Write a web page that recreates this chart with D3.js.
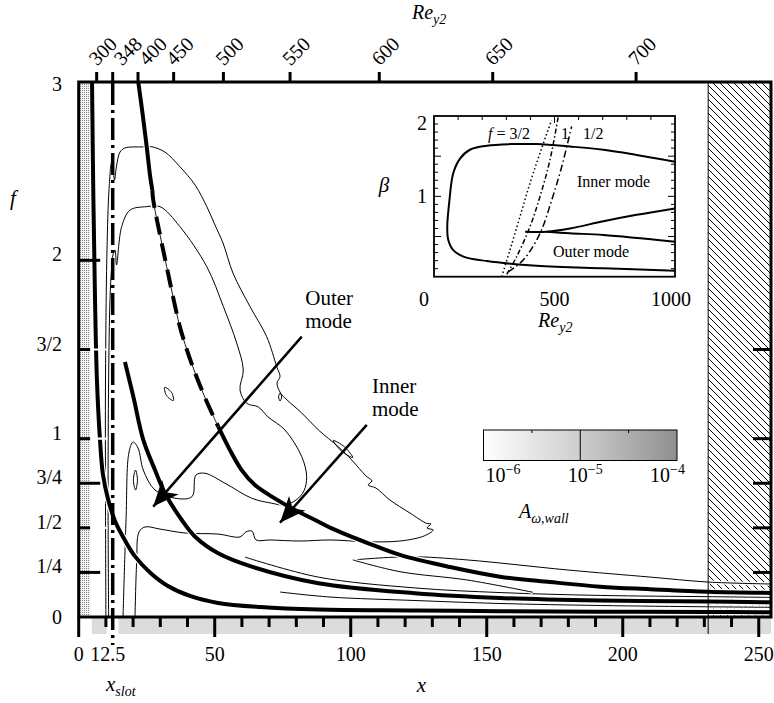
<!DOCTYPE html>
<html><head><meta charset="utf-8">
<script src="https://cdn.jsdelivr.net/npm/d3@7"></script>
<style>body{margin:0;background:#fff}svg{display:block}text{font-family:"Liberation Serif","Times New Roman","DejaVu Serif",serif;fill:#000}</style>
</head><body><svg id="c" width="774" height="703" font-family="Liberation Serif, Times New Roman, serif"></svg>
<script>
// ---------------- data ----------------
const xMajorTicks = [0, 50, 100, 150, 200, 250];
const xLabelVals = [0, 12.5, 50, 100, 150, 200, 250];
const xSlot = 12.5;
const fTicks = [0, 0.25, 0.5, 0.75, 1, 1.5, 2, 3];
const fTickLabels = ["0", "1/4", "1/2", "3/4", "1", "3/2", "2", "3"];
const fTicksWhite = [1.5, 1, 0.5];
const fTicksLong = [2, 0.75, 0.25];
const fTicksRight = [1.5, 1, 0.75, 0.5, 0.25];
const reTicks = [300, 348, 400, 450, 500, 550, 600, 650, 700];
const reTickX = [6.6, 12.5, 21.8, 34.9, 53.2, 77.7, 110.5, 152.2, 204.9];
const stippleBand = [0.4, 4.2];
const wallBands = [[4.8, 10.3], [14.6, 254.5]];
const hatchBand = [231.4, 254.5];

// thick neutral-curve branches (x, f)
const curveA = [[4.9,3.0],[5.4,2.34],[6.0,1.78],[6.7,1.33],[7.8,1.0],[8.9,0.80],[10.8,0.66],[13.3,0.54],[17.0,0.43],[20.7,0.34],[26.2,0.25],[32.8,0.174],[40.9,0.118],[51.2,0.079],[66.7,0.056],[88,0.042],[123.6,0.037],[155,0.0325],[191.7,0.030],[231.4,0.028],[254.5,0.026]];
const curveB = [[17.0,1.43],[20.1,1.235],[23.75,0.993],[28.05,0.824],[31.7,0.694],[37.9,0.544],[42.8,0.450],[51.3,0.357],[63.6,0.282],[88.1,0.189],[123.6,0.133],[154.9,0.1065],[191.7,0.0925],[231.4,0.0869],[254.5,0.0824]];
const curveCUpper = [[21.9,3.0],[23.3,2.843],[25.0,2.637],[26.2,2.479],[27.06,2.394]];
const curveCMid = [[27.06,2.394],[27.4,2.338],[29.9,2.142],[32.35,1.964],[34.7,1.794],[37.2,1.628],[39.8,1.497],[42.8,1.368],[46.8,1.217],[51.3,1.067]];
const curveCLower = [[51.3,1.067],[55.6,0.936],[59.9,0.824],[64.8,0.740],[71.0,0.675],[79.5,0.600],[86.9,0.544],[93.0,0.497],[106.5,0.413],[118.1,0.348],[136.5,0.280],[154.9,0.226],[173.3,0.196],[191.7,0.170],[210,0.156],[231.4,0.142],[254.5,0.135]];

// amplitude contours (x, f)
const contourL1 = [[10.0,0],[9.85,0.656],[9.85,1.329],[10.4,2.058],[11.14,2.394],[12.06,2.546],[12.6,2.518],[13.16,2.450],[13.9,2.529],[15.18,2.607],[17.0,2.630],[23.6,2.636],[26.8,2.637],[31.7,2.607],[37.2,2.525],[42.8,2.422],[47.1,2.301],[50.1,2.198],[53.05,2.097],[56.7,1.929],[63.0,1.740],[69.1,1.572],[72.8,1.404],[74.0,1.348],[72.9,1.312],[74.2,1.256],[76.6,1.217],[82.0,1.144],[88.1,1.049],[95.4,0.955],[100.4,0.880],[105.6,0.791],[107.8,0.763],[106.4,0.740],[109.3,0.723],[114.4,0.656],[121.8,0.583],[127.9,0.525],[129.5,0.522],[128.05,0.499],[130.3,0.488],[126.9,0.454],[118.1,0.426],[105.9,0.422],[92.4,0.432],[81.4,0.426],[70.3,0.432],[65.2,0.432],[63.7,0.482],[61.5,0.477],[59.3,0.449],[51.2,0.465],[39.1,0.471],[29.9,0.493],[24.4,0.505],[22.2,0.477],[21.3,0.303],[20.7,0]];
const contourL2 = [[11.0,0],[10.8,0.656],[11.0,1.329],[11.5,1.778],[12.13,1.964],[12.6,2.030],[13.35,2.058],[13.9,1.974],[15.8,2.189],[18.9,2.282],[25.0,2.301],[29.9,2.301],[37.2,2.189],[47.1,1.964],[53.2,1.740],[58.1,1.535],[60.5,1.385],[59.3,1.273],[61.8,1.198],[66.0,1.178],[69.6,1.122],[75.8,1.049],[82.0,0.899],[83.8,0.787],[82.8,0.707],[79.9,0.656],[75.8,0.628],[71.0,0.638],[63.6,0.666],[53.8,0.750],[46.4,0.806],[43.1,0.796],[41.65,0.675],[35.4,0.666],[28.05,0.712],[23.75,0.824],[21.8,0.948],[20.0,0.981],[18.5,0.925],[17.4,0.544],[16.3,0]];
const loopE1 = [[34.8,1.214],[32.3,1.241],[31.6,1.288],[34.1,1.260]];
const loopE2 = [[20.9,0.824],[21.6,0.768],[20.9,0.712],[20.1,0.768]];
const loopE3 = [[74.0,1.256],[74.6,1.234],[74.0,1.211],[73.5,1.234]];
const loopE4 = [[100.75,0.894],[96.56,0.931],[93.58,0.990],[97.78,0.953]];
const thinTB1 = [[61.1,0.336],[88.0,0.224],[123.6,0.163],[154.9,0.137],[191.7,0.121],[231.4,0.114],[254.5,0.110]];
const thinTB2 = [[74.0,0.140],[92.4,0.112],[123.6,0.0925],[154.9,0.0757],[191.7,0.0645],[231.4,0.0572],[254.5,0.0544]];
const tongueUpper = [[100.8,0.320],[121.8,0.338],[142.8,0.320],[179.5,0.264],[210,0.224],[231.4,0.196],[254.5,0.185]];
const tongueLower = [[100.8,0.320],[118.1,0.254],[142.8,0.2075],[167.0,0.1385]];

// arrows (start, tip) and their labels
const arrowOuter = [[82.0,1.572],[27.4,0.619]];
const arrowInner = [[105.9,1.077],[74.0,0.529]];
const labelOuter = [83.3, 1.75];
const labelInner = [107.8, 1.256];

// inset (Re_y2, beta)
const insetNeutral = [[1000,1.43],[841,1.515],[703,1.58],[564,1.62],[426,1.65],[315,1.65],[219,1.63],[149,1.58],[108,1.47],[80,1.29],[64,0.95],[55,0.62],[59,0.46],[80,0.33],[122,0.25],[219,0.195],[426,0.137],[703,0.104],[1000,0.075]];
const insetSplitUpper = [[378,0.56],[468,0.56],[564,0.60],[703,0.69],[841,0.77],[1000,0.85]];
const insetSplitLower = [[468,0.56],[564,0.54],[703,0.52],[1000,0.436]];
const insetF32 = [[281,0.0],[315,0.33],[357,0.75],[398,1.16],[440,1.54],[488,1.95]];
const insetF1 = [[302,0.03],[343,0.25],[398,0.62],[440,1.0],[481,1.45],[516,2.0]];
const insetF12 = [[308,0.06],[371,0.21],[440,0.54],[488,0.95],[530,1.37],[571,1.87]];
const insetXTicks = [0, 500, 1000];
const insetYTicks = [1, 2];

// colour bar
const cbTicks = [1e-6, 1e-5, 1e-4];
const cbExp = ["\u22126", "\u22125", "\u22124"];

// ---------------- drawing ----------------
const svg = d3.select('#c');
const X = d3.scaleLinear().domain([0, 254.5]).range([78.7, 771]);
const Y = d3.scaleLinear().domain([0, 3]).range([617, 82]);
const defs = svg.append('defs');

const hatch = defs.append('pattern').attr('id','hatch').attr('patternUnits','userSpaceOnUse').attr('width',7).attr('height',7);
hatch.append('rect').attr('width',7).attr('height',7).attr('fill','#fff');
hatch.append('path').attr('d','M-1,-1 L8,8 M-1,6 L1,8 M6,-1 L8,1').attr('stroke','#000').attr('stroke-width',1);
const stip = defs.append('pattern').attr('id','stip').attr('patternUnits','userSpaceOnUse').attr('width',2).attr('height',2);
stip.append('rect').attr('width',2).attr('height',2).attr('fill','#f2f2f2');
stip.append('rect').attr('width',1).attr('height',1).attr('fill','#8a8a8a');
defs.append('clipPath').attr('id','plotclip').append('rect')
  .attr('x',X(0)).attr('y',Y(3)).attr('width',X(254.5)-X(0)).attr('height',Y(0)-Y(3));
const grad = defs.append('linearGradient').attr('id','cbgrad');
grad.append('stop').attr('offset','0%').attr('stop-color','#ffffff');
grad.append('stop').attr('offset','50%').attr('stop-color','#cdcdcd');
grad.append('stop').attr('offset','100%').attr('stop-color','#8f8f8f');
const mk = defs.append('marker').attr('id','ah').attr('viewBox','0 -12 28 24').attr('refX',26).attr('refY',0)
  .attr('markerUnits','userSpaceOnUse').attr('markerWidth',28).attr('markerHeight',24).attr('orient','auto');
mk.append('path').attr('d','M0,-11 L26,0 L0,11 L7,0 Z').attr('fill','#000');

svg.append('rect').attr('width',774).attr('height',703).attr('fill','#fff');

// wall band under axis
wallBands.forEach(b => svg.append('rect').attr('x',X(b[0])).attr('y',Y(0)).attr('width',X(b[1])-X(b[0])).attr('height',17).attr('fill','#dcdcdc'));

const plot = svg.append('g').attr('clip-path','url(#plotclip)');
plot.append('rect').attr('x',X(stippleBand[0])).attr('y',Y(3)).attr('width',X(stippleBand[1])-X(stippleBand[0])).attr('height',Y(0)-Y(3)).attr('fill','url(#stip)');
plot.append('rect').attr('x',X(hatchBand[0])).attr('y',Y(3)).attr('width',X(hatchBand[1])-X(hatchBand[0])).attr('height',Y(0)-Y(3)).attr('fill','url(#hatch)');

const smooth = d3.line().x(d=>X(d[0])).y(d=>Y(d[1])).curve(d3.curveCatmullRom.alpha(0.5));
const closed = d3.line().x(d=>X(d[0])).y(d=>Y(d[1])).curve(d3.curveCardinalClosed.tension(0));

// contours
[contourL1, contourL2].forEach(c => plot.append('path').attr('d',smooth(c)).attr('fill','none').attr('stroke','#000').attr('stroke-width',1));
[loopE1, loopE2, loopE3, loopE4].forEach(c => plot.append('path').attr('d',closed(c)).attr('fill','none').attr('stroke','#000').attr('stroke-width',1));
[thinTB1, thinTB2, tongueUpper, tongueLower].forEach(c => {
  plot.append('path').attr('d',smooth(c)).attr('fill','none').attr('stroke','#fff').attr('stroke-width',3.5);
  plot.append('path').attr('d',smooth(c)).attr('fill','none').attr('stroke','#000').attr('stroke-width',1);
});

function thick(data, dashed){
  plot.append('path').attr('d',smooth(data)).attr('fill','none').attr('stroke','#fff').attr('stroke-width',6.5);
  if(dashed){
    plot.append('path').attr('d',smooth(data)).attr('fill','none').attr('stroke','#000').attr('stroke-width',0.9);
    plot.append('path').attr('d',smooth(data)).attr('fill','none').attr('stroke','#000').attr('stroke-width',4).attr('stroke-dasharray','18,9');
  } else {
    plot.append('path').attr('d',smooth(data)).attr('fill','none').attr('stroke','#000').attr('stroke-width',4);
  }
}
thick(curveA); thick(curveB); thick(curveCUpper); thick(curveCMid, true); thick(curveCLower);

// white tick extensions
fTicksWhite.forEach(v => plot.append('line').attr('x1',X(4.2)).attr('x2',X(10.6)).attr('y1',Y(v)).attr('y2',Y(v)).attr('stroke','#fff').attr('stroke-width',2.2));

// hatch border
svg.append('line').attr('x1',X(hatchBand[0])).attr('x2',X(hatchBand[0])).attr('y1',Y(3)).attr('y2',Y(0)+17).attr('stroke','#000').attr('stroke-width',1);

// slot line
svg.append('line').attr('x1',X(xSlot)).attr('x2',X(xSlot)).attr('y1',Y(3)+1).attr('y2',645).attr('stroke','#000').attr('stroke-width',3.5).attr('stroke-dasharray','22,5,3,5');

// arrows
[arrowOuter, arrowInner].forEach(a => svg.append('line').attr('x1',X(a[0][0])).attr('y1',Y(a[0][1])).attr('x2',X(a[1][0])).attr('y2',Y(a[1][1]))
  .attr('stroke','#000').attr('stroke-width',2.5).attr('marker-end','url(#ah)'));

// frame
svg.append('rect').attr('x',X(0)).attr('y',Y(3)).attr('width',X(254.5)-X(0)).attr('height',Y(0)-Y(3)).attr('fill','none').attr('stroke','#000').attr('stroke-width',3);

// bottom ticks
const minorX = d3.range(10, 251, 10).filter(v => v % 50 !== 0);
minorX.forEach(v => svg.append('line').attr('x1',X(v)).attr('x2',X(v)).attr('y1',Y(0)).attr('y2',Y(0)+10).attr('stroke','#000').attr('stroke-width',3));
xMajorTicks.forEach(v => svg.append('line').attr('x1',X(v)).attr('x2',X(v)).attr('y1',Y(0)).attr('y2',Y(0)+20).attr('stroke','#000').attr('stroke-width',3));
xLabelVals.forEach(v => svg.append('text').attr('x', v===xSlot ? X(v)-5 : X(v)).attr('y',661).attr('text-anchor','middle').attr('font-size',20).text(v));

// top Re ticks
let prev = -1e9;
reTicks.forEach((r,i) => {
  const px = X(reTickX[i]);
  svg.append('line').attr('x1',px).attr('x2',px).attr('y1',Y(3)).attr('y2',Y(3)-10).attr('stroke','#000').attr('stroke-width',3);
  const lx = Math.max(px+6, prev+25); prev = lx;
  svg.append('text').attr('transform',`translate(${lx},51) rotate(-45)`).attr('text-anchor','middle').attr('dy','0.35em').attr('font-size',20).text(r);
});

// left ticks
fTicksWhite.forEach(v => svg.append('line').attr('x1',X(0)).attr('x2',X(4.2)).attr('y1',Y(v)).attr('y2',Y(v)).attr('stroke','#000').attr('stroke-width',3));
fTicksLong.forEach(v => svg.append('line').attr('x1',X(0)).attr('x2',X(7.9)).attr('y1',Y(v)).attr('y2',Y(v)).attr('stroke','#000').attr('stroke-width',3));
fTicksRight.forEach(v => svg.append('line').attr('x1',X(254.5)-18).attr('x2',X(254.5)).attr('y1',Y(v)).attr('y2',Y(v)).attr('stroke','#000').attr('stroke-width',3));
fTicks.forEach((v,i) => svg.append('text').attr('x',62).attr('y',Y(v) + (v===3 ? 9 : v===0 ? 7 : 1)).attr('text-anchor','end').attr('font-size',20).text(fTickLabels[i]));

// axis titles
svg.append('text').attr('x',13).attr('y',205).attr('text-anchor','middle').attr('font-size',21).attr('font-style','italic').text('f');
const reT = svg.append('text').attr('x',412).attr('y',19).attr('font-size',20).attr('font-style','italic');
reT.append('tspan').text('Re'); reT.append('tspan').attr('font-size',14).attr('dy',5).text('y2');
svg.append('text').attr('x',X(126)).attr('y',692).attr('text-anchor','middle').attr('font-size',21).attr('font-style','italic').text('x');
const xs = svg.append('text').attr('x',106).attr('y',691).attr('font-size',21).attr('font-style','italic');
xs.append('tspan').text('x'); xs.append('tspan').attr('font-size',14).attr('dy',5).text('slot');

// mode labels
[[labelOuter,'Outer'],[labelInner,'Inner']].forEach(([p,t]) => {
  svg.append('text').attr('x',X(p[0])).attr('y',Y(p[1])).attr('font-size',21).text(t);
  svg.append('text').attr('x',X(p[0])).attr('y',Y(p[1])+23).attr('font-size',21).text('mode');
});

// colour bar
const cb = d3.scaleLog().domain([1e-6,1e-4]).range([483.5,677]);
svg.append('rect').attr('x',cb(1e-6)).attr('y',430).attr('width',cb(1e-4)-cb(1e-6)).attr('height',30.5).attr('fill','url(#cbgrad)').attr('stroke','#000').attr('stroke-width',1);
svg.append('line').attr('x1',cb(1e-5)).attr('x2',cb(1e-5)).attr('y1',430).attr('y2',460.5).attr('stroke','#000').attr('stroke-width',1);
[Math.pow(10,-5.5), Math.pow(10,-4.5)].forEach(v => svg.append('line').attr('x1',cb(v)).attr('x2',cb(v)).attr('y1',430).attr('y2',433).attr('stroke','#000').attr('stroke-width',1));
cbTicks.forEach((v,i) => {
  const anchor = i===0 ? 'start' : i===cbTicks.length-1 ? 'end' : 'middle';
  const dx = i===0 ? 2 : i===cbTicks.length-1 ? 8 : 5;
  const t = svg.append('text').attr('x',cb(v)+dx).attr('y',482).attr('text-anchor',anchor).attr('font-size',20);
  t.append('tspan').text('10'); t.append('tspan').attr('font-size',14).attr('dy',-8).text(cbExp[i]);
});
const at = svg.append('text').attr('x',519).attr('y',518).attr('font-size',20).attr('font-style','italic');
at.append('tspan').text('A'); at.append('tspan').attr('font-size',14).attr('dy',5).text('\u03c9,wall');

// ---------------- inset ----------------
const IX = d3.scaleLinear().domain([0,1000]).range([434,675]);
const IY = d3.scaleLinear().domain([0,2]).range([276.7,116]);
defs.append('clipPath').attr('id','insclip').append('rect').attr('x',IX(0)).attr('y',IY(2)).attr('width',IX(1000)-IX(0)).attr('height',IY(0)-IY(2));
const ins = svg.append('g');
ins.append('rect').attr('x',IX(0)).attr('y',IY(2)).attr('width',IX(1000)-IX(0)).attr('height',IY(0)-IY(2)).attr('fill','#fff');
const ig = ins.append('g').attr('clip-path','url(#insclip)');
const iline = d3.line().x(d=>IX(d[0])).y(d=>IY(d[1])).curve(d3.curveCatmullRom.alpha(0.5));
[insetNeutral, insetSplitUpper, insetSplitLower].forEach(c => ig.append('path').attr('d',iline(c)).attr('fill','none').attr('stroke','#000').attr('stroke-width',2));
[[insetF32,'1.5,2.5'],[insetF1,'5,2.5,1.5,2.5'],[insetF12,'7,3,1.5,3']].forEach(([c,da]) => ig.append('path').attr('d',iline(c)).attr('fill','none').attr('stroke','#000').attr('stroke-width',1.5).attr('stroke-dasharray',da));
ins.append('rect').attr('x',IX(0)).attr('y',IY(2)).attr('width',IX(1000)-IX(0)).attr('height',IY(0)-IY(2)).attr('fill','none').attr('stroke','#000').attr('stroke-width',1.8);
d3.range(100,1000,100).forEach(r => ins.append('line').attr('x1',IX(r)).attr('x2',IX(r)).attr('y1',IY(2)).attr('y2',IY(2)+(r===500?7:4)).attr('stroke','#000').attr('stroke-width',1));
d3.range(1,20).forEach(k => {
  const b = k/10, len = (k%5===0) ? 7 : 4;
  ins.append('line').attr('x1',IX(0)).attr('x2',IX(0)+len).attr('y1',IY(b)).attr('y2',IY(b)).attr('stroke','#000').attr('stroke-width',1);
  ins.append('line').attr('x1',IX(1000)-len).attr('x2',IX(1000)).attr('y1',IY(b)).attr('y2',IY(b)).attr('stroke','#000').attr('stroke-width',1);
});
insetXTicks.forEach((v,i) => {
  const dx = i===0 ? -10 : i===insetXTicks.length-1 ? -4 : 0;
  ins.append('text').attr('x',IX(v)+dx).attr('y',306).attr('text-anchor','middle').attr('font-size',20).text(v);
});
insetYTicks.forEach(v => ins.append('text').attr('x',427).attr('y',Math.max(IY(v)+7,130)).attr('text-anchor','end').attr('font-size',20).text(v));
ins.append('text').attr('x',384).attr('y',192).attr('text-anchor','middle').attr('font-size',21).attr('font-style','italic').text('\u03b2');
const ir = ins.append('text').attr('x',IX(432)).attr('y',327).attr('font-size',20).attr('font-style','italic');
ir.append('tspan').text('Re'); ir.append('tspan').attr('font-size',14).attr('dy',5).text('y2');
const fl = ins.append('text').attr('x',IX(224)).attr('y',IY(1.714)).attr('font-size',16);
fl.append('tspan').attr('font-style','italic').text('f'); fl.append('tspan').text(' = 3/2');
ins.append('text').attr('x',IX(527)).attr('y',IY(1.714)).attr('font-size',16).text('1');
ins.append('text').attr('x',IX(618)).attr('y',IY(1.714)).attr('font-size',16).text('1/2');
ins.append('text').attr('x',IX(593)).attr('y',IY(1.117)).attr('font-size',16).text('Inner mode');
ins.append('text').attr('x',IX(494)).attr('y',IY(0.245)).attr('font-size',16).text('Outer mode');
</script></body></html>
